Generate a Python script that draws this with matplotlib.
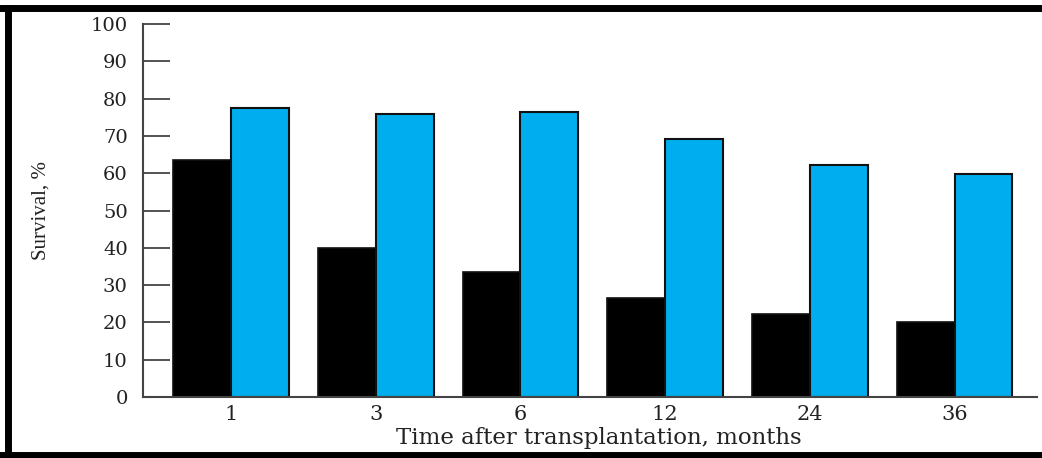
import numpy as np
import matplotlib
matplotlib.use("Agg")
import matplotlib.pyplot as plt
from matplotlib.lines import Line2D

months = ["1", "3", "6", "12", "24", "36"]
black_vals = [63.5, 40.0, 33.6, 26.5, 22.2, 20.0]
blue_vals = [77.6, 76.0, 76.5, 69.3, 62.2, 59.9]
yticks = [0, 10, 20, 30, 40, 50, 60, 70, 80, 90, 100]

fig = plt.figure(figsize=(10.42, 4.58), dpi=100)
ax = fig.add_axes([143/1042, 61/458, 894/1042, 373/458])

x = np.arange(len(months))
w = 0.40
ax.bar(x - w/2, black_vals, w, color="black", edgecolor="#111111", linewidth=1.2)
ax.bar(x + w/2, blue_vals, w, color="#00AEEF", edgecolor="#111111", linewidth=1.5)

ax.set_xlim(-0.608, 5.57)
ax.set_ylim(0, 100)
ax.set_yticks(yticks)
ax.set_yticklabels([str(v) for v in yticks])
ax.set_xticks(x)
ax.set_xticklabels(months)

for s in ["top", "right"]:
    ax.spines[s].set_visible(False)
for s in ["left", "bottom"]:
    ax.spines[s].set_color("#444444")
    ax.spines[s].set_linewidth(1.5)

ax.tick_params(axis="y", direction="in", length=19.5, width=1.3, color="#444444",
               pad=11, labelsize=14)
ax.tick_params(axis="x", length=0, pad=6, labelsize=15)
for lab in ax.get_yticklabels() + ax.get_xticklabels():
    lab.set_family("DejaVu Serif")
    lab.set_color("#222222")

ax.set_ylabel("Survival, %", family="Liberation Serif", fontsize=15, color="#222222")
ax.yaxis.set_label_coords(-0.103, 0.5)

fig.text(599/1042, 1 - 438/458, "Time after transplantation, months",
         family="DejaVu Serif", fontsize=16.5, color="#222222", ha="center", va="center")

# outer frame (open on the right side)
fig.add_artist(Line2D([0, 1], [1 - 8/458, 1 - 8/458], color="black", lw=5, transform=fig.transFigure))
fig.add_artist(Line2D([0, 1], [3/458, 3/458], color="black", lw=5, transform=fig.transFigure))
fig.add_artist(Line2D([8/1042, 8/1042], [0, 1 - 8/458], color="black", lw=5, transform=fig.transFigure))

fig.savefig("out.png", dpi=100)
